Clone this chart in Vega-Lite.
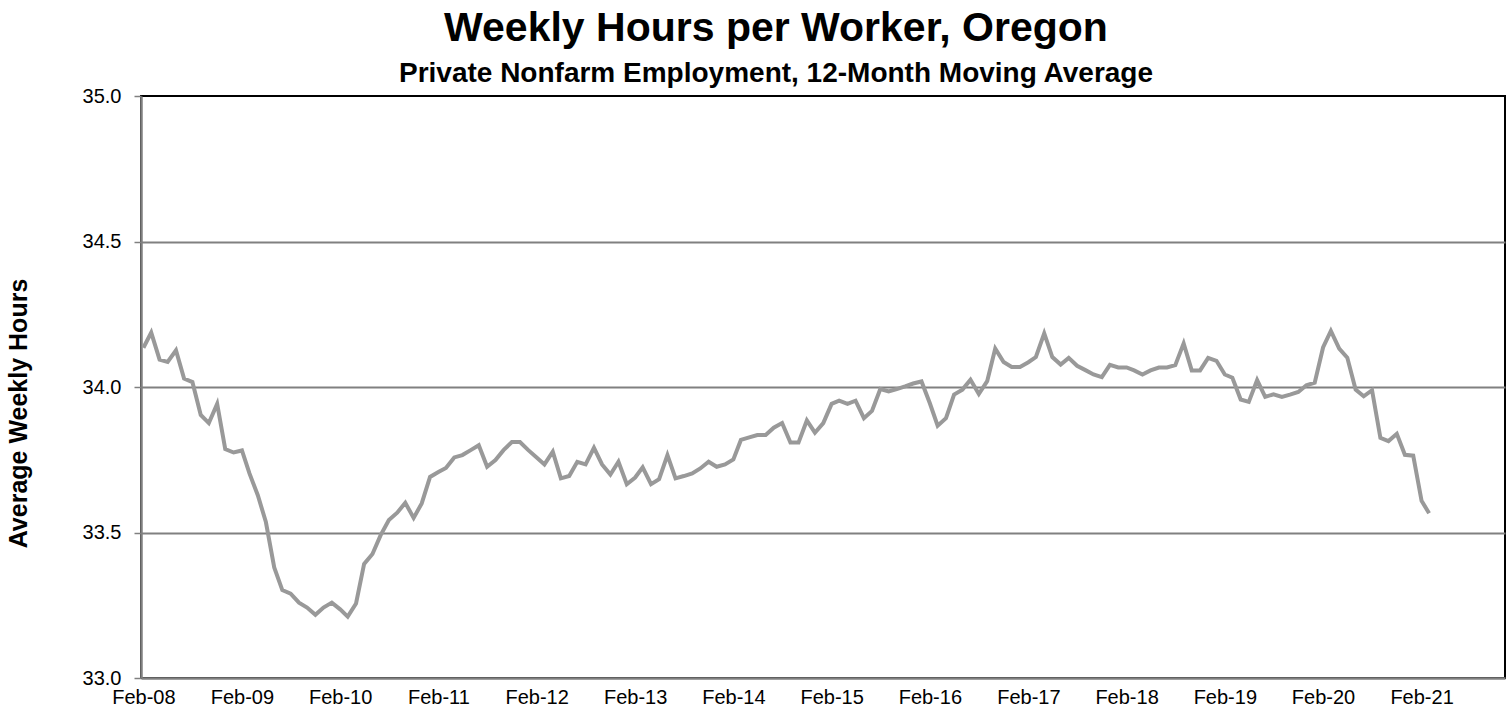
{
  "$schema": "https://vega.github.io/schema/vega-lite/v6.json",
  "width": 1364,
  "height": 582,
  "autosize": "none",
  "padding": {"left": 141, "top": 96, "right": 4, "bottom": 36},
  "background": "white",
  "config": {
    "font": "Liberation Sans",
    "view": {"stroke": "#000000", "strokeWidth": 2}
  },
  "title": {
    "text": "Weekly Hours per Worker, Oregon",
    "subtitle": "Private Nonfarm Employment, 12-Month Moving Average",
    "font": "Liberation Sans",
    "fontSize": 41,
    "fontWeight": "bold",
    "color": "#000000",
    "subtitleFont": "Liberation Sans",
    "subtitleFontSize": 28,
    "subtitleFontWeight": "bold",
    "subtitleColor": "#000000",
    "subtitlePadding": 10,
    "anchor": "middle",
    "dx": -47,
    "offset": -3
  },
  "data": {
    "values": [
      {"date": "2008-02-01", "hours": 34.135},
      {"date": "2008-03-01", "hours": 34.187},
      {"date": "2008-04-01", "hours": 34.094},
      {"date": "2008-05-01", "hours": 34.086},
      {"date": "2008-06-01", "hours": 34.126},
      {"date": "2008-07-01", "hours": 34.029},
      {"date": "2008-08-01", "hours": 34.017},
      {"date": "2008-09-01", "hours": 33.904},
      {"date": "2008-10-01", "hours": 33.876},
      {"date": "2008-11-01", "hours": 33.942},
      {"date": "2008-12-01", "hours": 33.787},
      {"date": "2009-01-01", "hours": 33.775},
      {"date": "2009-02-01", "hours": 33.782},
      {"date": "2009-03-01", "hours": 33.703},
      {"date": "2009-04-01", "hours": 33.628},
      {"date": "2009-05-01", "hours": 33.536},
      {"date": "2009-06-01", "hours": 33.380},
      {"date": "2009-07-01", "hours": 33.302},
      {"date": "2009-08-01", "hours": 33.290},
      {"date": "2009-09-01", "hours": 33.259},
      {"date": "2009-10-01", "hours": 33.242},
      {"date": "2009-11-01", "hours": 33.217},
      {"date": "2009-12-01", "hours": 33.242},
      {"date": "2010-01-01", "hours": 33.259},
      {"date": "2010-02-01", "hours": 33.236},
      {"date": "2010-03-01", "hours": 33.211},
      {"date": "2010-04-01", "hours": 33.256},
      {"date": "2010-05-01", "hours": 33.392},
      {"date": "2010-06-01", "hours": 33.426},
      {"date": "2010-07-01", "hours": 33.490},
      {"date": "2010-08-01", "hours": 33.543},
      {"date": "2010-09-01", "hours": 33.568},
      {"date": "2010-10-01", "hours": 33.602},
      {"date": "2010-11-01", "hours": 33.550},
      {"date": "2010-12-01", "hours": 33.600},
      {"date": "2011-01-01", "hours": 33.691},
      {"date": "2011-02-01", "hours": 33.708},
      {"date": "2011-03-01", "hours": 33.722},
      {"date": "2011-04-01", "hours": 33.758},
      {"date": "2011-05-01", "hours": 33.766},
      {"date": "2011-06-01", "hours": 33.783},
      {"date": "2011-07-01", "hours": 33.800},
      {"date": "2011-08-01", "hours": 33.726},
      {"date": "2011-09-01", "hours": 33.749},
      {"date": "2011-10-01", "hours": 33.783},
      {"date": "2011-11-01", "hours": 33.811},
      {"date": "2011-12-01", "hours": 33.811},
      {"date": "2012-01-01", "hours": 33.783},
      {"date": "2012-02-01", "hours": 33.758},
      {"date": "2012-03-01", "hours": 33.734},
      {"date": "2012-04-01", "hours": 33.778},
      {"date": "2012-05-01", "hours": 33.686},
      {"date": "2012-06-01", "hours": 33.694},
      {"date": "2012-07-01", "hours": 33.743},
      {"date": "2012-08-01", "hours": 33.734},
      {"date": "2012-09-01", "hours": 33.791},
      {"date": "2012-10-01", "hours": 33.734},
      {"date": "2012-11-01", "hours": 33.699},
      {"date": "2012-12-01", "hours": 33.743},
      {"date": "2013-01-01", "hours": 33.666},
      {"date": "2013-02-01", "hours": 33.689},
      {"date": "2013-03-01", "hours": 33.724},
      {"date": "2013-04-01", "hours": 33.666},
      {"date": "2013-05-01", "hours": 33.683},
      {"date": "2013-06-01", "hours": 33.766},
      {"date": "2013-07-01", "hours": 33.686},
      {"date": "2013-08-01", "hours": 33.694},
      {"date": "2013-09-01", "hours": 33.703},
      {"date": "2013-10-01", "hours": 33.720},
      {"date": "2013-11-01", "hours": 33.743},
      {"date": "2013-12-01", "hours": 33.726},
      {"date": "2014-01-01", "hours": 33.734},
      {"date": "2014-02-01", "hours": 33.751},
      {"date": "2014-03-01", "hours": 33.818},
      {"date": "2014-04-01", "hours": 33.827},
      {"date": "2014-05-01", "hours": 33.835},
      {"date": "2014-06-01", "hours": 33.835},
      {"date": "2014-07-01", "hours": 33.860},
      {"date": "2014-08-01", "hours": 33.876},
      {"date": "2014-09-01", "hours": 33.809},
      {"date": "2014-10-01", "hours": 33.809},
      {"date": "2014-11-01", "hours": 33.885},
      {"date": "2014-12-01", "hours": 33.843},
      {"date": "2015-01-01", "hours": 33.876},
      {"date": "2015-02-01", "hours": 33.942},
      {"date": "2015-03-01", "hours": 33.953},
      {"date": "2015-04-01", "hours": 33.942},
      {"date": "2015-05-01", "hours": 33.953},
      {"date": "2015-06-01", "hours": 33.893},
      {"date": "2015-07-01", "hours": 33.918},
      {"date": "2015-08-01", "hours": 33.993},
      {"date": "2015-09-01", "hours": 33.985},
      {"date": "2015-10-01", "hours": 33.993},
      {"date": "2015-11-01", "hours": 34.002},
      {"date": "2015-12-01", "hours": 34.012},
      {"date": "2016-01-01", "hours": 34.019},
      {"date": "2016-02-01", "hours": 33.944},
      {"date": "2016-03-01", "hours": 33.867},
      {"date": "2016-04-01", "hours": 33.893},
      {"date": "2016-05-01", "hours": 33.974},
      {"date": "2016-06-01", "hours": 33.991},
      {"date": "2016-07-01", "hours": 34.025},
      {"date": "2016-08-01", "hours": 33.976},
      {"date": "2016-09-01", "hours": 34.020},
      {"date": "2016-10-01", "hours": 34.132},
      {"date": "2016-11-01", "hours": 34.086},
      {"date": "2016-12-01", "hours": 34.069},
      {"date": "2017-01-01", "hours": 34.069},
      {"date": "2017-02-01", "hours": 34.085},
      {"date": "2017-03-01", "hours": 34.103},
      {"date": "2017-04-01", "hours": 34.184},
      {"date": "2017-05-01", "hours": 34.103},
      {"date": "2017-06-01", "hours": 34.077},
      {"date": "2017-07-01", "hours": 34.100},
      {"date": "2017-08-01", "hours": 34.073},
      {"date": "2017-09-01", "hours": 34.058},
      {"date": "2017-10-01", "hours": 34.043},
      {"date": "2017-11-01", "hours": 34.034},
      {"date": "2017-12-01", "hours": 34.076},
      {"date": "2018-01-01", "hours": 34.067},
      {"date": "2018-02-01", "hours": 34.067},
      {"date": "2018-03-01", "hours": 34.057},
      {"date": "2018-04-01", "hours": 34.043},
      {"date": "2018-05-01", "hours": 34.057},
      {"date": "2018-06-01", "hours": 34.067},
      {"date": "2018-07-01", "hours": 34.067},
      {"date": "2018-08-01", "hours": 34.075},
      {"date": "2018-09-01", "hours": 34.150},
      {"date": "2018-10-01", "hours": 34.057},
      {"date": "2018-11-01", "hours": 34.057},
      {"date": "2018-12-01", "hours": 34.100},
      {"date": "2019-01-01", "hours": 34.090},
      {"date": "2019-02-01", "hours": 34.043},
      {"date": "2019-03-01", "hours": 34.032},
      {"date": "2019-04-01", "hours": 33.957},
      {"date": "2019-05-01", "hours": 33.949},
      {"date": "2019-06-01", "hours": 34.024},
      {"date": "2019-07-01", "hours": 33.966},
      {"date": "2019-08-01", "hours": 33.975},
      {"date": "2019-09-01", "hours": 33.966},
      {"date": "2019-10-01", "hours": 33.974},
      {"date": "2019-11-01", "hours": 33.983},
      {"date": "2019-12-01", "hours": 34.006},
      {"date": "2020-01-01", "hours": 34.015},
      {"date": "2020-02-01", "hours": 34.136},
      {"date": "2020-03-01", "hours": 34.193},
      {"date": "2020-04-01", "hours": 34.132},
      {"date": "2020-05-01", "hours": 34.101},
      {"date": "2020-06-01", "hours": 33.991},
      {"date": "2020-07-01", "hours": 33.968},
      {"date": "2020-08-01", "hours": 33.989},
      {"date": "2020-09-01", "hours": 33.825},
      {"date": "2020-10-01", "hours": 33.814},
      {"date": "2020-11-01", "hours": 33.839},
      {"date": "2020-12-01", "hours": 33.767},
      {"date": "2021-01-01", "hours": 33.764},
      {"date": "2021-02-01", "hours": 33.609},
      {"date": "2021-03-01", "hours": 33.566}
    ]
  },
  "mark": {"type": "line", "color": "#999999", "strokeWidth": 4, "strokeJoin": "miter", "clip": true},
  "encoding": {
    "x": {
      "field": "date",
      "type": "temporal",
      "scale": {
        "type": "utc",
        "domain": [
          {"year": 2008, "month": 1, "date": 23, "utc": true},
          {"year": 2021, "month": 12, "date": 8, "utc": true}
        ],
        "nice": false
      },
      "axis": {
        "title": null,
        "values": [
          {"year": 2008, "month": 2, "date": 1, "utc": true},
          {"year": 2009, "month": 2, "date": 1, "utc": true},
          {"year": 2010, "month": 2, "date": 1, "utc": true},
          {"year": 2011, "month": 2, "date": 1, "utc": true},
          {"year": 2012, "month": 2, "date": 1, "utc": true},
          {"year": 2013, "month": 2, "date": 1, "utc": true},
          {"year": 2014, "month": 2, "date": 1, "utc": true},
          {"year": 2015, "month": 2, "date": 1, "utc": true},
          {"year": 2016, "month": 2, "date": 1, "utc": true},
          {"year": 2017, "month": 2, "date": 1, "utc": true},
          {"year": 2018, "month": 2, "date": 1, "utc": true},
          {"year": 2019, "month": 2, "date": 1, "utc": true},
          {"year": 2020, "month": 2, "date": 1, "utc": true},
          {"year": 2021, "month": 2, "date": 1, "utc": true}
        ],
        "format": "%b-%y",
        "grid": false,
        "ticks": false,
        "labelFont": "Liberation Sans",
        "labelFontSize": 20,
        "labelColor": "#000000",
        "labelPadding": 9,
        "labelOverlap": false,
        "labelFlush": false,
        "domainColor": "#808080",
        "domainWidth": 2.5
      }
    },
    "y": {
      "field": "hours",
      "type": "quantitative",
      "scale": {"domain": [33, 35], "nice": false, "zero": false},
      "axis": {
        "title": "Average Weekly Hours",
        "titleFont": "Liberation Sans",
        "titleFontSize": 25,
        "titleFontWeight": "bold",
        "titleColor": "#000000",
        "titlePadding": 51,
        "titleY": 317,
        "values": [33, 33.5, 34, 34.5, 35],
        "format": ".1f",
        "labelFont": "Liberation Sans",
        "labelFontSize": 20,
        "labelColor": "#000000",
        "labelPadding": 13,
        "tickSize": 7,
        "tickColor": "#808080",
        "tickWidth": 1.5,
        "domainColor": "#808080",
        "domainWidth": 2.5,
        "gridColor": "#808080",
        "gridWidth": 2,
        "gridOpacity": {"condition": {"test": "datum.value <= 33 || datum.value >= 35", "value": 0}, "value": 1}
      }
    }
  }
}
